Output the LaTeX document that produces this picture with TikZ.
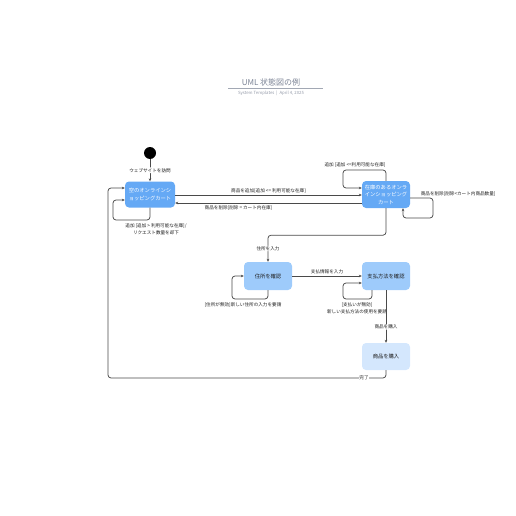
\documentclass[tikz,border=0pt]{standalone}
\usepackage{fontspec}
\setmainfont{Noto Sans CJK JP}
\usetikzlibrary{arrows.meta, positioning}

\definecolor{cartblue}{HTML}{65A9F5}
\definecolor{checkblue}{HTML}{9ECBFB}
\definecolor{buyblue}{HTML}{D4E7FD}
\definecolor{linegray}{HTML}{4A4A4A}
\definecolor{textdark}{HTML}{1F1F1F}
\definecolor{titlegray}{HTML}{7A8294}

\begin{document}
\begin{tikzpicture}[
    x=1pt, y=-1pt,
    >={Stealth[length=3pt, width=2.6pt]},
    line/.style={->, draw=linegray, line width=0.75pt, rounded corners=3pt},
    state/.style={rectangle, rounded corners=4pt, minimum width=48pt, minimum height=27pt,
                  inner sep=1pt, align=center, font=\fontsize{5.3}{7.5}\selectfont},
    darkstate/.style={state, fill=cartblue, text=white},
    lightstate/.style={state, fill=checkblue, text=textdark},
    lbl/.style={font=\fontsize{4.6}{7}\selectfont, text=textdark, inner sep=0.6pt, align=center}
  ]
  \useasboundingbox (0,0) rectangle (516,516);

  % --- TITULO ---
  \node[font=\fontsize{8}{9}\selectfont, text=titlegray] (title) at (271,82.5) {UML 状態図の例};
  \draw[titlegray!70, line width=0.6pt] (228,88) -- (323,88);
  \node[font=\fontsize{4.3}{5}\selectfont, text=titlegray!80] (subtitle) at (271,93) {System Templates \ | \ April 4, 2025};

  % --- ESTADOS ---
  % estado inicial
  \node[circle, fill=black, minimum size=12pt, inner sep=0pt] (start) at (150,153) {};

  % carrinhos
  \node[darkstate, minimum width=50pt, minimum height=26pt] (cartempty) at (150,194.5) {空のオンラインシ\\ョッピングカート};
  \node[darkstate] (cartfull) at (386,194.5) {在庫のあるオンラ\\インショッピング\\カート};

  % verificacoes
  \node[lightstate, minimum height=28pt] (addr) at (268,276) {住所を確認};
  \node[lightstate, minimum height=28pt] (pay) at (386,276) {支払方法を確認};

  % compra
  \node[state, fill=buyblue, text=textdark] (buy) at (386,356.5) {商品を購入};

  % --- TRANSICOES ---
  \draw[line] (start) -- node[lbl, fill=white] {ウェブサイトを訪問} (cartempty);

  % carrinho vazio <-> carrinho com itens
  \draw[line] ([yshift=-0.5pt]cartempty.east) -- node[lbl, above=1pt] {商品を追加[追加 <= 利用可能な在庫]} ([yshift=-0.5pt]cartfull.west);
  \draw[line] ([yshift=-8.5pt]cartfull.west) -- node[lbl, below=2pt, xshift=-30pt] {商品を削除[削除 = カート内在庫]} ([yshift=-8.5pt]cartempty.east);

  % laço do carrinho vazio
  \draw[line] (cartempty.south) |- (113,220) |- ([yshift=-5.5pt]cartempty.west);
  \node[lbl] (loopempty) at (156,229) {追加 [追加 > 利用可能な在庫]/\\リクエスト数量を却下};

  % laços do carrinho com itens
  \draw[line] (cartfull.north) |- (343,170) |- ([yshift=6.5pt]cartfull.west);
  \node[lbl] (loopadd) at (355,165) {追加 [追加 <=利用可能な在庫]};
  \draw[line] ([yshift=-3.5pt]cartfull.east) -| (433,218) -| ([xshift=17pt]cartfull.south);
  \node[lbl, anchor=south west] (loopdel) at (420,197.5) {商品を削除[削除<カート内商品数量]};

  % carrinho -> endereco
  \draw[line] (cartfull.south) -- ++(0,27) -| node[lbl, pos=0.75, fill=white] {住所を入力} (addr.north);

  % laço do endereco
  \draw[line] (addr.south) |- (232,299) |- (addr.west);
  \node[lbl] (loopaddr) at (243,305) {[住所が無効]新しい住所の入力を要請};

  % endereco -> pagamento
  \draw[line] (addr) -- node[lbl, above=1pt] {支払情報を入力} (pay);

  % laço do pagamento
  \draw[line] ([xshift=-14pt]pay.south) |- (343,299) |- ([yshift=-7pt]pay.west);
  \node[lbl] (looppay) at (357,308.5) {[支払いが無効]\\新しい支払方法の使用を要請};

  % pagamento -> compra
  \draw[line] (pay) -- node[lbl, fill=white, pos=0.7] {商品を購入} (buy);

  % compra -> carrinho vazio
  \draw[line] (buy.south) |- (108,378) |- ([yshift=6.5pt]cartempty.west);
  \node[lbl, fill=white] (done) at (364,378) {完了};

\end{tikzpicture}
\end{document}
